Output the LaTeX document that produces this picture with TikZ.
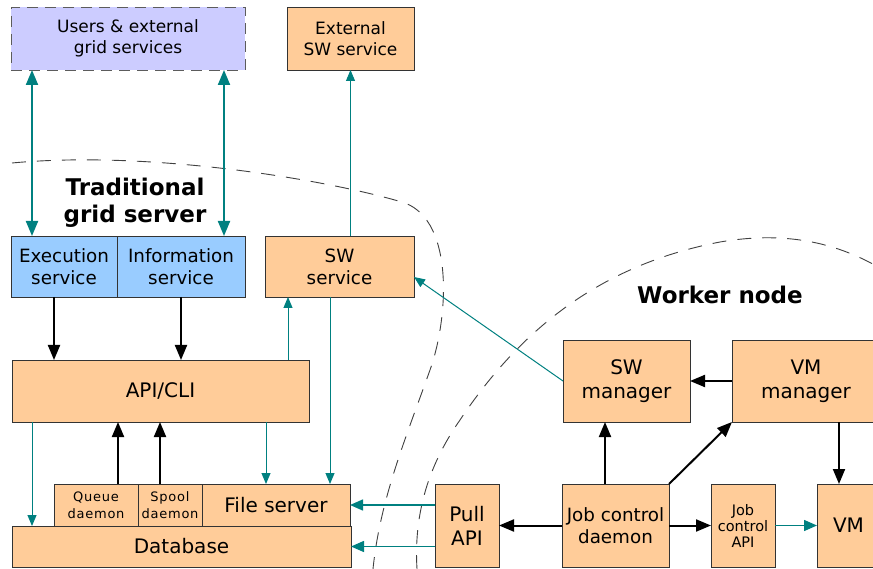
\documentclass[tikz,border=0pt]{standalone}
\usepackage{fontspec}
\setmainfont{DejaVu Sans}
\usetikzlibrary{arrows.meta,calc}
\definecolor{boxorange}{HTML}{FFCC99}
\definecolor{boxblue}{HTML}{99CCFF}
\definecolor{boxlav}{HTML}{CCCCFF}
\definecolor{tealc}{HTML}{008080}
\definecolor{edgec}{HTML}{333333}
\tikzset{
  box/.style={draw=edgec, line width=0.9pt, fill=boxorange, inner sep=0pt, outer sep=0pt, align=center},
  fbig/.style={font=\fontsize{20}{24}\selectfont},
  fmid/.style={font=\fontsize{18.3}{22}\selectfont},
  fusr/.style={font=\fontsize{17}{21}\selectfont},
  fsml/.style={font=\fontsize{14.5}{16}\selectfont},
  ftiny/.style={font=\fontsize{13}{17}\selectfont\addfontfeatures{LetterSpace=6}},
  ftitle/.style={font=\fontsize{23}{27}\selectfont\bfseries, align=center},
  blk/.style={draw=black, line width=2pt, -{Triangle[width=12pt,length=15pt]}},
  tealthick/.style={draw=tealc, line width=2pt, {Triangle[width=12pt,length=15pt]}-{Triangle[width=12pt,length=15pt]}},
  tealthin/.style={draw=tealc, line width=1pt, -{Triangle[width=9pt,length=11pt]}},
  tealmid/.style={draw=tealc, line width=1.5pt, -{Triangle[width=11pt,length=13pt]}},
  bound/.style={draw=black!75, line width=0.9pt, dash pattern=on 14pt off 11pt},
}
\begin{document}
\begin{tikzpicture}[x=1pt,y=-1pt]
\useasboundingbox (0,0) rectangle (873,569);
\begin{scope}
\clip (0,0) rectangle (873,569);
% dashed boundaries
\draw[bound] (12,163) .. controls (150,150) and (330,180) .. (405,203)
  .. controls (455,222) and (448,320) .. (430,370)
  .. controls (405,440) and (380,500) .. (373,569);
\draw[bound] (417,569) .. controls (414,520) and (425,470) .. (460,420)
  .. controls (520,330) and (600,265) .. (720,242)
  .. controls (790,230) and (840,245) .. (880,268);

% nodes
\node[box, fill=boxlav, draw=edgec!80, dash pattern=on 11pt off 7pt, minimum width=234pt, minimum height=63pt, fusr] (users) at (128,38.5) {Users \& external\\grid services};
\node[box, minimum width=127pt, minimum height=63pt, fusr] (extsw) at (350.5,38.5) {External\\SW service};
\node[box, fill=boxblue, minimum width=106pt, minimum height=61pt, fmid] (exec) at (64,266.5) {Execution\\service};
\node[box, fill=boxblue, minimum width=128pt, minimum height=61pt, fmid] (info) at (181,266.5) {Information\\service};
\node[box, minimum width=149pt, minimum height=61pt, fmid] (swsvc) at (339.5,266.5) {SW\\service};
\node[box, minimum width=297pt, minimum height=62pt, fbig] (api) at (160.5,391) {API/CLI};
\node[box, minimum width=84pt, minimum height=42pt, ftiny] (queue) at (96,505) {Queue\\daemon};
\node[box, minimum width=64pt, minimum height=42pt, ftiny] (spool) at (170,505) {Spool\\daemon};
\node[box, minimum width=148pt, minimum height=42pt, fbig] (file) at (276,505) {File server};
\node[box, minimum width=339pt, minimum height=41pt, fbig] (db) at (181.5,546.5) {Database};
\node[box, minimum width=64pt, minimum height=83pt, fbig] (pull) at (467,525.5) {Pull\\API};
\node[box, minimum width=107pt, minimum height=83pt, fmid] (jcd) at (615.5,525.5) {Job control\\daemon};
\node[box, minimum width=64pt, minimum height=83pt, fsml] (jca) at (743,525.5) {Job\\control\\API};
\node[box, minimum width=63pt, minimum height=83pt, fbig] (vm) at (848.5,525.5) {VM};
\node[box, minimum width=127pt, minimum height=82pt, fbig] (swmgr) at (626.5,381) {SW\\manager};
\node[box, minimum width=148pt, minimum height=82pt, fbig] (vmmgr) at (806,381) {VM\\manager};

\node[ftitle] (tgs) at (135,203) {Traditional\\grid server};
\node[ftitle] (wn) at (720,295) {Worker node};

% connectors
\draw[tealthick] ($(users.south west)+(21,0)$) -- ($(exec.north west)+(21,0)$);
\draw[tealthick] ($(users.south west)+(213,0)$) -- ($(info.north west)+(107,0)$);
\draw[tealthin] (swsvc.north -| extsw.south) -- (extsw.south);
\draw[blk] ($(exec.south west)+(43,0)$) -- ($(api.north west)+(42,0)$);
\draw[blk] (info.south) -- (info.south |- api.north);
\draw[tealthin] ($(api.north west)+(276,0)$) -- ($(swsvc.south west)+(23,0)$);
\draw[tealthin] ($(swsvc.south west)+(65,0)$) -- ($(file.north west)+(128,0)$);
\draw[tealthin] ($(api.south west)+(20,0)$) -- ($(db.north west)+(20,0)$);
\draw[tealthin] ($(api.south west)+(254,0)$) -- ($(file.north west)+(64,0)$);
\draw[blk] ($(queue.north west)+(64,0)$) -- ($(api.south west)+(106,0)$);
\draw[blk] ($(spool.north west)+(22,0)$) -- ($(api.south west)+(148,0)$);
\draw[tealmid] (pull.west |- file.east) -- (file.east);
\draw[tealmid] (pull.west |- db.east) -- (db.east);
\draw[blk] (jcd.west) -- (pull.east);
\draw[blk] ($(jcd.north west)+(43,0)$) -- ($(swmgr.south west)+(42,0)$);
\draw[blk] (jcd.north east) -- (vmmgr.south west);
\draw[blk] (vmmgr.west) -- (swmgr.east);
\draw[blk] ($(vmmgr.south west)+(107,0)$) -- ($(vm.north west)+(22,0)$);
\draw[blk] (jcd.east) -- (jca.west);
\draw[tealmid] (jca.east) -- (vm.west);
\draw[tealthin] (swmgr.west) -- ($(swsvc.south east)+(0,-20)$);
\end{scope}
\end{tikzpicture}
\end{document}
